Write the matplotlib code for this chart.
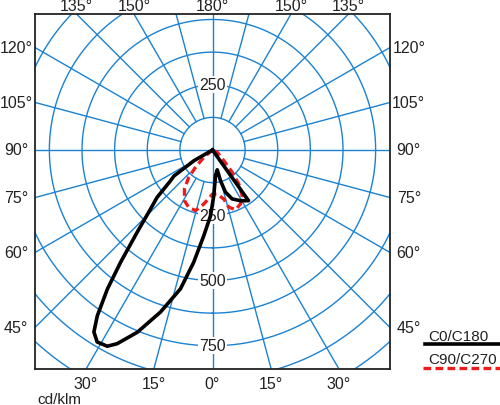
import numpy as np
import matplotlib
matplotlib.use("Agg")
import matplotlib.pyplot as plt
from matplotlib.lines import Line2D

plt.rcParams['font.family'] = ['Liberation Sans', 'DejaVu Sans']

# ---- data (gamma in degrees, negative = C180 / C270 side; intensity in cd/klm) ----
c0_gamma = [-90, -60, -56, -53.8, -49.5, -46.4, -42.5, -39.3, -37.1, -34.8, -33.1,
            -31.0, -28.2, -26.2, -22.4, -17.8, -13.0, -9.5, -5.8, -1.7, 1.6, 6.7,
            13.4, 14.6, 17.1, 21.9, 28.9, 35.4, 90]
c0_cd = [0, 82, 178, 199, 279, 328, 427, 556, 667, 773, 832,
         858, 853, 827, 755, 652, 546, 436, 330, 252, 175, 99,
         78, 121, 169, 202, 222, 238, 0]

c90_gamma = [-90, -50, -44.5, -41, -35.7, -28.9, -22.5, -15.6, -9.2, 0, 6.1,
             13, 15.9, 21.1, 27.4, 33, 37.7, 41.5, 46.6, 64, 90]
c90_cd = [0, 44, 93, 139, 184, 222, 238, 241, 210, 169, 170,
          193, 228, 245, 233, 209, 165, 114, 60, 20, 0]

ring_values = [125, 250, 375, 500, 625, 750, 875, 1000]
ring_label_up = [250]
ring_label_down = [250, 500, 750]
spoke_angles = list(range(0, 360, 15))
edge_labels = [-135, -150, 180, 150, 135,          # top
               -120, -105, -90, -75, -60, -45,     # left
               120, 105, 90, 75, 60, 45,           # right
               -30, -15, 0, 15, 30]                # bottom
series_names = ["C0/C180", "C90/C270"]
unit_label = "cd/klm"

GRID = '#1b82d2'
RED = '#ec1c1c'
XMIN, XMAX, YMIN, YMAX = -680, 680, -839, 521


def to_xy(gamma, r):
    g = np.radians(np.asarray(gamma, dtype=float))
    r = np.asarray(r, dtype=float)
    return r * np.sin(g), -r * np.cos(g)


fig = plt.figure(figsize=(5.0, 4.06), dpi=100)
ax = fig.add_axes([35 / 500, 1 - 370 / 406, 355 / 500, 355 / 406])
ax.set_xlim(XMIN, XMAX)
ax.set_ylim(YMIN, YMAX)
ax.set_xticks([])
ax.set_yticks([])
for s in ax.spines.values():
    s.set_color('#222222')
    s.set_linewidth(1.3)
    s.set_zorder(10)

# rings
th = np.linspace(0, 360, 721)
for rv in ring_values:
    x, y = to_xy(th, np.full_like(th, rv))
    ax.plot(x, y, color=GRID, lw=1.0, zorder=1)

# spokes
for a in spoke_angles:
    r0 = 0 if a % 90 == 0 else ring_values[0]
    x, y = to_xy([a, a], [r0, 1400])
    ax.plot(x, y, color=GRID, lw=1.0, zorder=1)

# ring value labels
bb = dict(facecolor='white', edgecolor='none', pad=0.6)
for rv in ring_label_up:
    ax.text(0, rv, str(rv), ha='center', va='center', fontsize=11.5,
            color='#222222', bbox=bb, zorder=3)
for rv in ring_label_down:
    ax.text(0, -rv, str(rv), ha='center', va='center', fontsize=11.5,
            color='#222222', bbox=bb, zorder=3)

# edge angle labels
for a in edge_labels:
    g = np.radians(a)
    dx, dy = np.sin(g), -np.cos(g)
    ts = []
    if dx > 1e-9:
        ts.append((XMAX / dx, 'R'))
    if dx < -1e-9:
        ts.append((XMIN / dx, 'L'))
    if dy > 1e-9:
        ts.append((YMAX / dy, 'T'))
    if dy < -1e-9:
        ts.append((YMIN / dy, 'B'))
    t, side = min(ts, key=lambda v: v[0])
    hx, hy = t * dx, t * dy
    txt = f"{abs(a)}°"
    if side == 'T':
        ax.text(hx, YMAX + 33, txt, ha='center', va='center', fontsize=11.5,
                color='#222222', clip_on=False)
    elif side == 'B':
        ax.text(hx, YMIN - 57, txt, ha='center', va='center', fontsize=11.5,
                color='#222222', clip_on=False)
    elif side == 'L':
        ax.text(XMIN - 73, hy, txt, ha='center', va='center', fontsize=11.5,
                color='#222222', clip_on=False)
    else:
        ax.text(XMAX + 72, hy, txt, ha='center', va='center', fontsize=11.5,
                color='#222222', clip_on=False)

# curves
x0, y0 = to_xy(c0_gamma, c0_cd)
ax.plot(x0, y0, color='black', lw=2.6, solid_joinstyle='round', zorder=5)
x9, y9 = to_xy(c90_gamma, c90_cd)
ax.plot(x9, y9, color=RED, lw=2.4, dashes=(2.3, 1.3), zorder=4)

# legend (manual)
fig.text(428 / 500, 1 - 337 / 406, series_names[0], ha='left', va='center',
         fontsize=11, color='#222222')
fig.add_artist(Line2D([425 / 500, 1.0], [1 - 345 / 406] * 2, color='black', lw=2.6,
                      transform=fig.transFigure))
fig.text(428 / 500, 1 - 360 / 406, series_names[1], ha='left', va='center',
         fontsize=11, color='#222222')
fig.add_artist(Line2D([423 / 500, 1.0], [1 - 369 / 406] * 2, color=RED, lw=2.4,
                      dashes=(2.3, 1.3), transform=fig.transFigure))

fig.text(37 / 500, 1 - 400 / 406, unit_label, ha='left', va='center',
         fontsize=11, color='#222222')

fig.savefig("out.png", dpi=100, facecolor='white')
